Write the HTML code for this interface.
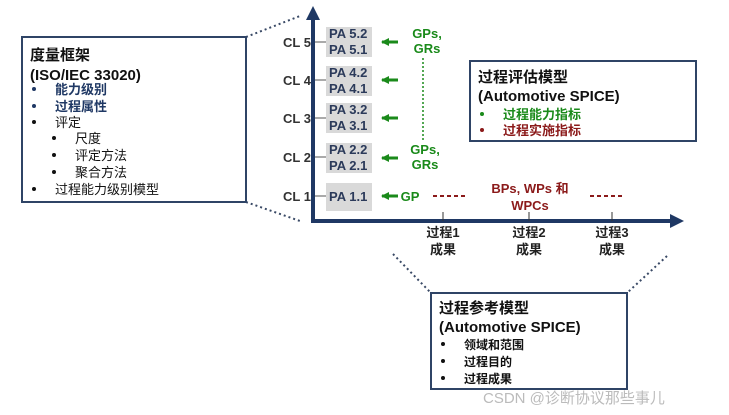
<!DOCTYPE html>
<html><head><meta charset="utf-8"><style>
html,body{margin:0;padding:0;background:#fff;}
svg{display:block;font-family:"Liberation Sans","Noto Sans CJK SC",sans-serif;}
</style></head><body>
<svg width="729" height="415" viewBox="0 0 729 415" xmlns="http://www.w3.org/2000/svg">
<defs>
<marker id="ga" markerWidth="8" markerHeight="8" refX="1" refY="4" orient="auto" markerUnits="userSpaceOnUse"><path d="M8,0 L0,4 L8,8 Z" fill="#1a8a1a"/></marker>
</defs>
<!-- dotted connectors -->
<g stroke="#3a4a66" stroke-width="2" stroke-dasharray="2,3" fill="none">
<line x1="246" y1="37" x2="300" y2="16"/>
<line x1="246" y1="202" x2="300" y2="221"/>
<line x1="393" y1="254" x2="431" y2="293"/>
<line x1="667" y1="256" x2="627" y2="293"/>
</g>
<!-- left box -->
<rect x="22" y="37" width="224" height="165" fill="#fff" stroke="#2f4466" stroke-width="2"/>
<g font-size="13" fill="#111">
<text x="30" y="60" font-size="15" font-weight="bold">度量框架</text>
<text x="30" y="80" font-size="15" font-weight="bold">(ISO/IEC 33020)</text>
<text x="55" y="94" fill="#1f3864" font-weight="bold">能力级别</text>
<text x="55" y="111" fill="#1f3864" font-weight="bold">过程属性</text>
<text x="55" y="127">评定</text>
<text x="75" y="143">尺度</text>
<text x="75" y="160">评定方法</text>
<text x="75" y="177">聚合方法</text>
<text x="55" y="194">过程能力级别模型</text>
</g>
<g fill="#111"><circle cx="34" cy="89" r="2" fill="#1f3864"/><circle cx="34" cy="106" r="2" fill="#1f3864"/><circle cx="34" cy="122" r="2"/><circle cx="54" cy="138" r="2"/><circle cx="54" cy="155" r="2"/><circle cx="54" cy="172" r="2"/><circle cx="34" cy="189" r="2"/></g>
<!-- PA boxes -->
<g fill="#d9d9d9">
<rect x="326" y="27" width="46" height="30"/><rect x="326" y="66" width="46" height="30"/>
<rect x="326" y="103" width="46" height="30"/><rect x="326" y="143" width="46" height="30"/>
<rect x="326" y="183" width="46" height="28"/>
</g>
<g font-size="13" font-weight="bold" fill="#2b3a5a">
<text x="329" y="38">PA 5.2</text><text x="329" y="54">PA 5.1</text>
<text x="329" y="77">PA 4.2</text><text x="329" y="93">PA 4.1</text>
<text x="329" y="114">PA 3.2</text><text x="329" y="130">PA 3.1</text>
<text x="329" y="154">PA 2.2</text><text x="329" y="170">PA 2.1</text>
<text x="329" y="201">PA 1.1</text>
</g>
<g font-size="13" font-weight="bold" fill="#333">
<text x="283" y="47">CL 5</text><text x="283" y="85">CL 4</text><text x="283" y="123">CL 3</text><text x="283" y="162">CL 2</text><text x="283" y="201">CL 1</text>
</g>
<g stroke="#555" stroke-width="1"><line x1="311" y1="42" x2="326" y2="42"/><line x1="311" y1="80" x2="326" y2="80"/><line x1="311" y1="118" x2="326" y2="118"/><line x1="311" y1="157" x2="326" y2="157"/><line x1="311" y1="196" x2="326" y2="196"/></g>
<!-- axes -->
<line x1="313" y1="18" x2="313" y2="221" stroke="#1f3864" stroke-width="4"/>
<path d="M313,6 L306,20 L320,20 Z" fill="#1f3864"/>
<line x1="311" y1="221" x2="672" y2="221" stroke="#1f3864" stroke-width="4"/>
<path d="M684,221 L670,214 L670,228 Z" fill="#1f3864"/>
<g stroke="#333" stroke-width="1"><line x1="443" y1="212" x2="443" y2="221"/><line x1="529" y1="212" x2="529" y2="221"/><line x1="612" y1="212" x2="612" y2="221"/></g>
<!-- green arrows -->
<g stroke="#1a8a1a" stroke-width="3" marker-start="url(#ga)">
<line x1="382" y1="42" x2="398" y2="42"/><line x1="382" y1="80" x2="398" y2="80"/><line x1="382" y1="118" x2="398" y2="118"/><line x1="382" y1="158" x2="398" y2="158"/><line x1="382" y1="196" x2="398" y2="196"/>
</g>
<line x1="423" y1="58" x2="423" y2="140" stroke="#1a8a1a" stroke-width="1.5" stroke-dasharray="2,2"/>
<g font-size="13" font-weight="bold" fill="#1a8a1a" text-anchor="middle">
<text x="427" y="38">GPs,</text><text x="427" y="53">GRs</text>
<text x="425" y="154">GPs,</text><text x="425" y="169">GRs</text>
<text x="410" y="201">GP</text>
</g>
<g stroke="#8b1a1a" stroke-width="2" stroke-dasharray="4,3"><line x1="433" y1="196" x2="467" y2="196"/><line x1="590" y1="196" x2="625" y2="196"/></g>
<g font-size="13" font-weight="bold" fill="#8b1a1a" text-anchor="middle"><text x="530" y="193">BPs, WPs 和</text><text x="530" y="210">WPCs</text></g>
<g font-size="13" font-weight="bold" fill="#222" text-anchor="middle">
<text x="443" y="237">过程1</text><text x="443" y="254">成果</text>
<text x="529" y="237">过程2</text><text x="529" y="254">成果</text>
<text x="612" y="237">过程3</text><text x="612" y="254">成果</text>
</g>
<!-- right box -->
<rect x="470" y="61" width="226" height="80" fill="#fff" stroke="#2f4466" stroke-width="2"/>
<g font-size="15" font-weight="bold" fill="#111"><text x="478" y="82">过程评估模型</text><text x="478" y="101">(Automotive SPICE)</text></g>
<circle cx="482" cy="114" r="2" fill="#1a8a1a"/><circle cx="482" cy="130" r="2" fill="#8b1a1a"/>
<g font-size="13" font-weight="bold"><text x="503" y="119" fill="#1a8a1a">过程能力指标</text><text x="503" y="135" fill="#8b1a1a">过程实施指标</text></g>
<!-- bottom box -->
<rect x="431" y="293" width="196" height="96" fill="#fff" stroke="#2f4466" stroke-width="2"/>
<g font-size="15" font-weight="bold" fill="#111"><text x="439" y="313">过程参考模型</text><text x="439" y="332">(Automotive SPICE)</text></g>
<g fill="#111"><circle cx="443" cy="344" r="2"/><circle cx="443" cy="361" r="2"/><circle cx="443" cy="378" r="2"/></g>
<g font-size="12" font-weight="bold" fill="#111"><text x="464" y="349">领域和范围</text><text x="464" y="366">过程目的</text><text x="464" y="383">过程成果</text></g>
<text x="483" y="403" font-size="15" fill="#bbb">CSDN @诊断协议那些事儿</text>
</svg>
</body></html>
